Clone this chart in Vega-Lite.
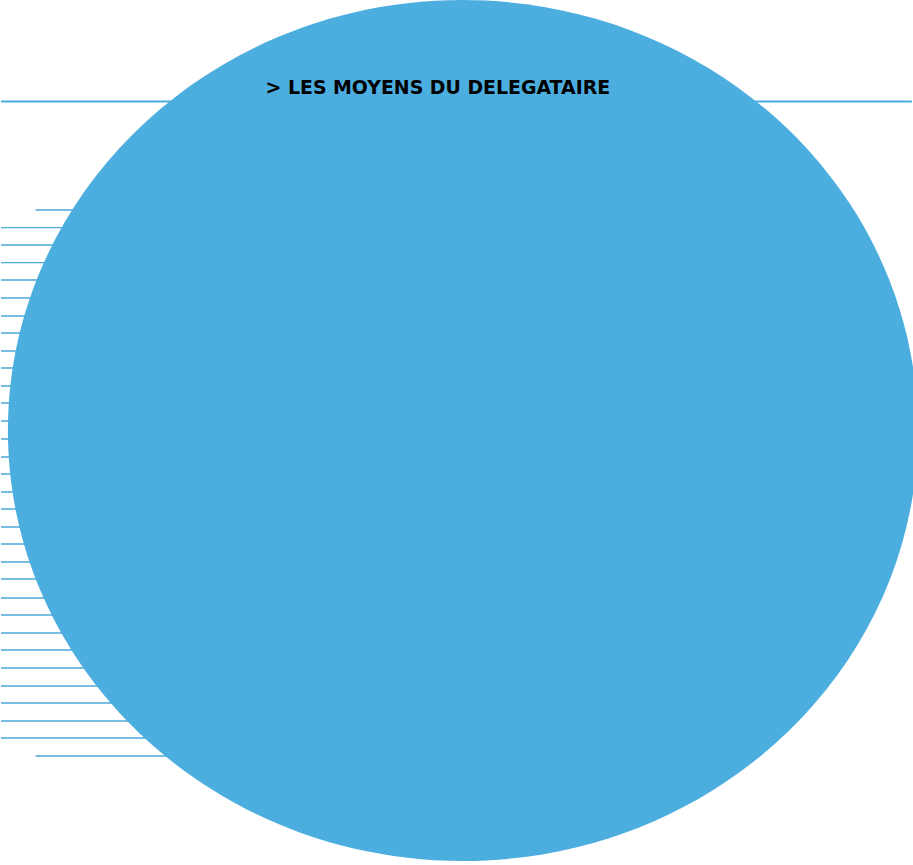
{
  "$schema": "https://vega.github.io/schema/vega-lite/v6.json",
  "width": 913,
  "height": 865,
  "autosize": {"type": "fit", "contains": "padding"},
  "padding": 0,
  "background": "white",
  "config": {"view": {"stroke": null}},
  "datasets": {
    "lines": [
      {"y": 210, "x": 30, "x2": 200},
      {"y": 227.7, "x": -5, "x2": 243},
      {"y": 245, "x": -5, "x2": 277},
      {"y": 262.7, "x": -5, "x2": 300},
      {"y": 280, "x": -5, "x2": 317},
      {"y": 298, "x": -5, "x2": 333},
      {"y": 316, "x": -5, "x2": 347},
      {"y": 333, "x": -5, "x2": 358},
      {"y": 351, "x": -5, "x2": 370},
      {"y": 368, "x": -5, "x2": 377},
      {"y": 386, "x": -5, "x2": 385},
      {"y": 403, "x": -5, "x2": 388},
      {"y": 421, "x": -5, "x2": 393},
      {"y": 439, "x": -5, "x2": 398},
      {"y": 457, "x": -5, "x2": 399},
      {"y": 474, "x": -5, "x2": 400},
      {"y": 492, "x": -5, "x2": 400},
      {"y": 509, "x": -5, "x2": 398},
      {"y": 527, "x": -5, "x2": 397},
      {"y": 544, "x": -5, "x2": 393},
      {"y": 562, "x": -5, "x2": 390},
      {"y": 579, "x": -5, "x2": 385},
      {"y": 598, "x": -5, "x2": 377},
      {"y": 615, "x": -5, "x2": 370},
      {"y": 633, "x": -5, "x2": 360},
      {"y": 650, "x": -5, "x2": 347},
      {"y": 668, "x": -5, "x2": 333},
      {"y": 686, "x": -5, "x2": 317},
      {"y": 703, "x": -5, "x2": 300},
      {"y": 721, "x": -5, "x2": 277},
      {"y": 738, "x": -5, "x2": 243},
      {"y": 756, "x": 30, "x2": 200}
    ],
    "topline": [{"y": 101.5, "x": -5, "x2": 918}],
    "disk": [{"cx": 463, "cy": 430.5}],
    "title": [{"label": "> LES MOYENS DU DELEGATAIRE", "x": 263, "y": 94}]
  },
  "layer": [
    {
      "data": {"name": "lines"},
      "mark": {"type": "rule", "color": "#4aa9d9", "strokeWidth": 1.3},
      "encoding": {
        "y": {"field": "y", "type": "quantitative", "scale": {"domain": [0, 865], "reverse": true, "nice": false, "zero": false}, "axis": null},
        "x": {"field": "x", "type": "quantitative", "scale": {"domain": [0, 913], "nice": false, "zero": false}, "axis": null},
        "x2": {"field": "x2"}
      }
    },
    {
      "data": {"name": "topline"},
      "mark": {"type": "rule", "color": "#4aaddd", "strokeWidth": 1.8},
      "encoding": {
        "y": {"field": "y", "type": "quantitative"},
        "x": {"field": "x", "type": "quantitative"},
        "x2": {"field": "x2"}
      }
    },
    {
      "data": {"name": "disk"},
      "mark": {
        "type": "point",
        "filled": true,
        "opacity": 0.992,
        "color": "#4badde",
        "shape": "M -1 0 A 1 0.946 0 1 1 1 0 A 1 0.946 0 1 1 -1 0 Z",
        "size": 828100
      },
      "encoding": {
        "x": {"field": "cx", "type": "quantitative"},
        "y": {"field": "cy", "type": "quantitative"}
      }
    },
    {
      "data": {"name": "title"},
      "mark": {"type": "text", "align": "left", "baseline": "alphabetic", "font": "DejaVu Sans", "fontWeight": "bold", "fontSize": 18.9, "color": "#000000"},
      "encoding": {
        "x": {"field": "x", "type": "quantitative"},
        "y": {"field": "y", "type": "quantitative"},
        "text": {"field": "label"}
      }
    }
  ],
  "resolve": {"scale": {"x": "shared", "y": "shared"}}
}
